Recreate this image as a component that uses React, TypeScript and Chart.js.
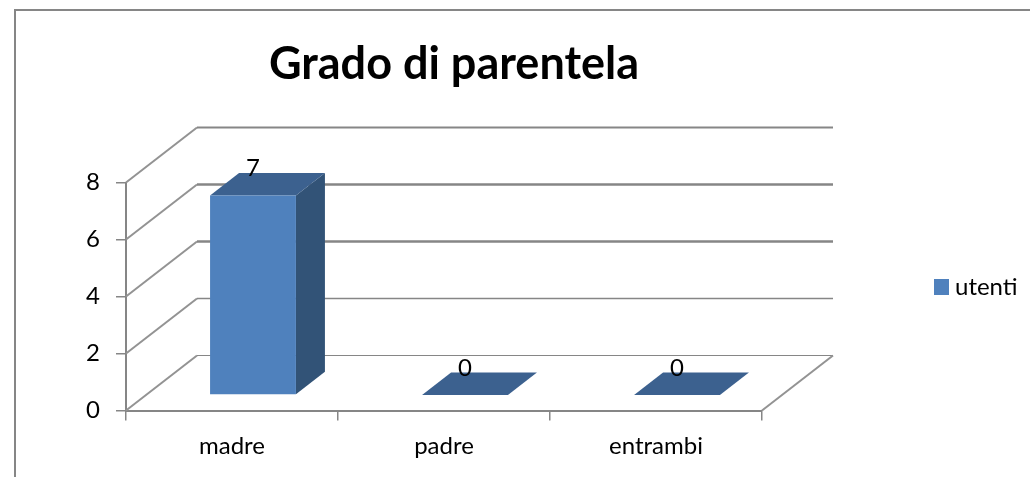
import React, { useEffect, useRef } from "react";
import { Chart, registerables } from "chart.js";

Chart.register(...registerables);

const categories = ["madre", "padre", "entrambi"];
const seriesName = "utenti";
const utenti = [7, 0, 0];
const chartTitle = "Grado di parentela";

const FONT = "Lato";
const AXIS = "#868686";
const FRONT = "#4F81BD";
const TOP = "#3C618F";
const SIDE = "#325377";
const WALL_DX = 71;
const WALL_DY = -55;
const BAR_SHIFT_X = 21;
const BAR_SHIFT_Y = -15.5;
const BAR_DX = 29;
const BAR_DY = -22.5;
const WALL_WIDTHS = [1.2, 1.4, 2.6, 2.6, 2];

const plugin3d = {
  id: "plugin3d",
  beforeLayout(chart: any) {
    const l = chart.legend;
    if (!l.__wrapped) {
      const fit = l.fit;
      l.fit = function () {
        fit.call(this);
        this.width = 268;
      };
      l.__wrapped = true;
    }
  },
  afterLayout(chart: any) {
    const l = chart.legend;
    l.left = 934;
    l.right = 1030;
    l.top = 275;
    l.bottom = 300;
    const t = chart.titleBlock;
    t.left = 0;
    t.right = 908;
  },
  beforeDraw(chart: any) {
    const c = chart.ctx;
    c.save();
    c.fillStyle = "#ffffff";
    c.fillRect(0, 0, chart.width, chart.height);
    c.strokeStyle = AXIS;
    c.lineWidth = 2;
    c.strokeRect(15, 10, chart.width + 20, chart.height + 20);
    c.restore();
  },
  beforeDatasetsDraw(chart: any) {
    const c = chart.ctx;
    const { left, right, bottom } = chart.chartArea;
    const y = chart.scales.y;
    c.save();
    y.ticks.forEach((tick: any, i: number) => {
      const p = y.getPixelForValue(tick.value);
      c.strokeStyle = "#939393";
      c.lineWidth = 2;
      c.beginPath();
      c.moveTo(left, p);
      c.lineTo(left + WALL_DX, p + WALL_DY);
      c.stroke();
      c.strokeStyle = AXIS;
      c.lineWidth = WALL_WIDTHS[i] ?? 1.5;
      c.beginPath();
      c.moveTo(left + WALL_DX, p + WALL_DY);
      c.lineTo(right + WALL_DX, p + WALL_DY);
      c.stroke();
    });
    c.strokeStyle = "#939393";
    c.lineWidth = 2;
    c.beginPath();
    c.moveTo(right, bottom);
    c.lineTo(right + WALL_DX, bottom + WALL_DY);
    c.stroke();

    // depth faces of the bars, from the library's own bar elements
    const meta = chart.getDatasetMeta(0);
    meta.data.forEach((bar: any) => {
      const { x, y: top, base, width } = bar.getProps(["x", "y", "base", "width"], true);
      const l = x - width / 2 + BAR_SHIFT_X;
      const r = x + width / 2 + BAR_SHIFT_X;
      const t = top + BAR_SHIFT_Y;
      const b = base + BAR_SHIFT_Y;
      if (b - t > 0) {
        c.fillStyle = SIDE;
        c.beginPath();
        c.moveTo(r, t);
        c.lineTo(r + BAR_DX, t + BAR_DY);
        c.lineTo(r + BAR_DX, b + BAR_DY);
        c.lineTo(r, b);
        c.closePath();
        c.fill();
      }
      c.fillStyle = TOP;
      c.beginPath();
      c.moveTo(l, t);
      c.lineTo(l + BAR_DX, t + BAR_DY);
      c.lineTo(r + BAR_DX, t + BAR_DY);
      c.lineTo(r, t);
      c.closePath();
      c.fill();
    });
    c.restore();
    c.save();
    c.translate(BAR_SHIFT_X, BAR_SHIFT_Y);
  },
  afterDatasetsDraw(chart: any) {
    const c = chart.ctx;
    c.restore();
    c.save();
    c.fillStyle = "#000000";
    c.font = `24px ${FONT}`;
    c.textAlign = "center";
    c.textBaseline = "middle";
    const meta = chart.getDatasetMeta(0);
    meta.data.forEach((bar: any, i: number) => {
      const { x, y: top } = bar.getProps(["x", "y"], true);
      c.fillText(String(utenti[i]), x + BAR_SHIFT_X, top + BAR_SHIFT_Y - 27);
    });
    c.restore();
  },
  afterDraw(chart: any) {
    // widen the legend swatch: the library ties the text gap to the box width
    const c = chart.ctx;
    c.save();
    c.fillStyle = FRONT;
    c.fillRect(chart.legend.left, 279, 15, 16);
    c.restore();
  },
};

export default function App() {
  const ref = useRef<HTMLCanvasElement>(null);
  useEffect(() => {
    const chart = new Chart(ref.current as HTMLCanvasElement, {
      type: "bar",
      data: {
        labels: categories,
        datasets: [
          {
            label: seriesName,
            data: utenti,
            backgroundColor: FRONT,
            borderWidth: 0,
            categoryPercentage: 1,
            barPercentage: 0.405,
          },
        ],
      },
      plugins: [plugin3d],
      options: {
        responsive: false,
        animation: false,
        clip: false,
        layout: { padding: { left: 66, right: 0, top: 0, bottom: 0 } },
        plugins: {
          tooltip: { enabled: false },
          title: {
            display: true,
            text: chartTitle,
            color: "#000000",
            font: { family: FONT, size: 45, weight: "bold", lineHeight: 1.2 },
            padding: { top: 37, bottom: 91.5 },
          },
          legend: {
            display: true,
            position: "right",
            align: "start",
            labels: {
              boxWidth: 9,
              boxHeight: 15,
              padding: 0,
              color: "#000000",
              font: { family: FONT, size: 24 },
            },
          },
        },
        scales: {
          x: {
            afterFit(scale: any) {
              scale.height = 66.5;
            },
            grid: { drawOnChartArea: false, color: AXIS, lineWidth: 1.5, tickLength: 10 },
            border: { color: AXIS, width: 2 },
            ticks: { color: "#000000", padding: 11, maxRotation: 0, font: { family: FONT, size: 24 } },
          },
          y: {
            min: 0,
            max: 8,
            afterFit(scale: any) {
              scale.width = 60;
            },
            grid: { drawOnChartArea: false, color: AXIS, lineWidth: 1.5, tickLength: 10 },
            border: { color: AXIS, width: 2 },
            ticks: { stepSize: 2, color: "#000000", padding: 16, font: { family: FONT, size: 24 } },
          },
        },
      },
    } as any);
    return () => chart.destroy();
  }, []);
  return (
    <canvas
      ref={ref}
      width={1030}
      height={477}
      style={{ position: "absolute", left: 0, top: 0, display: "block" }}
    />
  );
}
